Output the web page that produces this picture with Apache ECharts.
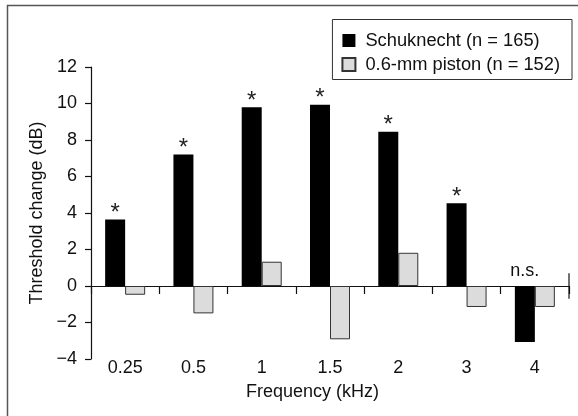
<!DOCTYPE html>
<html>
<head>
<meta charset="utf-8">
<script src="https://cdn.jsdelivr.net/npm/echarts@6/dist/echarts.min.js"></script>
<style>
html,body{margin:0;padding:0;background:#fff;}
#chart{width:578px;height:416px;}
</style>
</head>
<body>
<div id="chart"></div>
<script>
var categories = ['0.25', '0.5', '1', '1.5', '2', '3', '4'];
var schuknecht = [3.65, 7.2, 9.8, 9.93, 8.45, 4.53, -3.07];
var piston = [-0.48, -1.5, 1.33, -2.92, 1.82, -1.15, -1.15];
var sigMarks = ['*', '*', '*', '*', '*', '*', ''];
var nsLabel = 'n.s.';
var yTicks = { min: -4, max: 12, interval: 2 };
var seriesNames = ['Schuknecht (n = 165)', '0.6-mm piston (n = 152)'];

var FONT = 'Liberation Sans, Arial, Helvetica, sans-serif';
var chart = echarts.init(document.getElementById('chart'));
chart.setOption({
  animation: false,
  backgroundColor: '#fff',
  textStyle: { fontFamily: FONT, color: '#111' },
  graphic: [{
    type: 'rect', left: 5, top: 3, shape: { width: 620, height: 520 },
    style: { fill: 'none', stroke: '#555', lineWidth: 1.5 }, silent: true, z: -1
  }],
  grid: { left: 91, right: 9, top: 67, bottom: 57 },
  legend: {
    orient: 'vertical', right: 6, top: 19.5,
    itemWidth: 13, itemHeight: 13, itemGap: 6,
    padding: [12, 12, 6, 9],
    borderColor: '#333', borderWidth: 1,
    icon: 'rect',
    textStyle: { fontFamily: FONT, fontSize: 18.3, color: '#111', padding: [0, 0, 0, 5] },
    data: seriesNames
  },
  xAxis: [{
    type: 'category', data: categories, position: 'bottom',
    axisLine: { onZero: true, lineStyle: { color: '#111', width: 1.2 } },
    axisTick: { show: true, inside: false, length: 8, lineStyle: { color: '#111', width: 1.2 } },
    axisLabel: { show: false },
    splitLine: { show: false }
  }, {
    type: 'category', data: categories, position: 'bottom',
    axisLine: { show: false, onZero: false },
    axisTick: { show: false },
    axisLabel: { show: true, fontSize: 18, color: '#111', fontFamily: FONT, margin: 0 },
    name: 'Frequency (kHz)', nameLocation: 'middle', nameGap: 24,
    nameTextStyle: { fontSize: 18, color: '#111', fontFamily: FONT, padding: [0, 35, 0, 0] }
  }, {
    type: 'value', min: 0, max: 7, show: false
  }],
  yAxis: {
    type: 'value', min: yTicks.min, max: yTicks.max, interval: yTicks.interval,
    axisLine: { show: true, onZero: false, lineStyle: { color: '#111', width: 1.2 } },
    axisTick: { show: true, inside: false, length: 6, lineStyle: { color: '#111', width: 1.2 } },
    axisLabel: {
      fontSize: 18, color: '#111', fontFamily: FONT, margin: 14,
      formatter: function (v) { return String(v).replace('-', '\u2212'); }
    },
    splitLine: { show: false },
    name: 'Threshold change (dB)', nameLocation: 'middle', nameGap: 44,
    nameTextStyle: { fontSize: 18, color: '#111', fontFamily: FONT }
  },
  series: [{
    name: seriesNames[0], type: 'bar', xAxisIndex: 0,
    data: schuknecht, barWidth: 20, barGap: '0%',
    itemStyle: { color: '#000' },
    label: {
      show: true, position: 'top', distance: -6, fontSize: 24, color: '#222', fontFamily: FONT,
      formatter: function (p) { return sigMarks[p.dataIndex]; }
    },
    markPoint: {
      symbol: 'circle', symbolSize: 0,
      label: { show: true, position: 'top', distance: 6, fontSize: 18, color: '#111', fontFamily: FONT,
        formatter: function () { return nsLabel; } },
      data: [{ coord: [categories[6], 0] }]
    }
  }, {
    name: seriesNames[1], type: 'bar', xAxisIndex: 0,
    data: piston, barWidth: 20, barGap: '0%',
    itemStyle: { color: '#dcdcdc', borderColor: '#333', borderWidth: 1 }
  }, {
    type: 'line', xAxisIndex: 2, data: [[7, -0.7], [7, 0.7]],
    symbol: 'none', lineStyle: { color: '#111', width: 1.2 }, silent: true
  }]
});
</script>
</body>
</html>
